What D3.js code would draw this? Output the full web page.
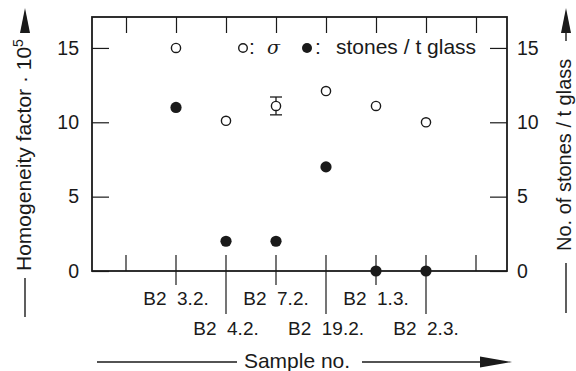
<!DOCTYPE html>
<html>
<head>
<meta charset="utf-8">
<script src="https://cdn.jsdelivr.net/npm/d3@7"></script>
<style>
  body { margin: 0; background: #fff; }
  text { font-family: Arial, "Liberation Sans", sans-serif; fill: #1a1a1a; }
</style>
</head>
<body>
<div id="chart"></div>
<script>
// Données
const samples = ["B2\u00a0\u00a03.2.", "B2\u00a0\u00a04.2.", "B2\u00a0\u00a07.2.", "B2\u00a0\u00a019.2.", "B2\u00a0\u00a01.3.", "B2\u00a0\u00a02.3."];
const sigma = [15.0, 10.1, 11.1, 12.1, 11.1, 10.0];
const sigmaErr = [0, 0, 0.6, 0, 0, 0];
const stones = [11.0, 2.0, 2.0, 7.0, 0, 0];
const yTicks = [0, 5, 10, 15];

const width = 576;
const height = 371;
const ink = "#1a1a1a";

const svg = d3.select("#chart")
  .append("svg")
  .attr("width", width)
  .attr("height", height);

// positions 1..6 pour les échantillons, 0..7 pour les graduations
const x = d3.scaleLinear().domain([-0.68, 7.62]).range([92, 507]);
const y = d3.scaleLinear().domain([0, 17.08]).range([271, 17]);
const xTicks = d3.range(0, 8);

// Cadre
svg.append("rect")
  .attr("x", x.range()[0])
  .attr("y", y.range()[1])
  .attr("width", x.range()[1] - x.range()[0])
  .attr("height", y.range()[0] - y.range()[1])
  .attr("fill", "none")
  .attr("stroke", ink)
  .attr("stroke-width", 1.8);

// Axes gauche et droit
const leftAxis = svg.append("g")
  .attr("transform", `translate(${x.range()[0]},0)`)
  .call(d3.axisLeft(y).tickValues(yTicks).tickSize(-17).tickPadding(13));
const rightAxis = svg.append("g")
  .attr("transform", `translate(${x.range()[1]},0)`)
  .call(d3.axisRight(y).tickValues(yTicks).tickSize(-17).tickPadding(10));

// Graduations du haut
const topAxis = svg.append("g")
  .attr("transform", `translate(0,${y.range()[1]})`)
  .call(d3.axisTop(x).tickValues(xTicks).tickSize(-16).tickFormat(""));

[leftAxis, rightAxis, topAxis].forEach(g => {
  g.select(".domain").remove();
  g.selectAll(".tick line").attr("stroke", ink).attr("stroke-width", 1.2);
  g.selectAll(".tick text").attr("font-size", 19.5).attr("fill", ink)
    .style("font-family", "Arial, 'Liberation Sans', sans-serif");
});

// Graduations du bas, prolongées sous l'axe pour les échantillons
const ext = i => (i === 0 || i === 7) ? 0 : (i % 2 === 1 ? 14 : 43);
svg.append("g")
  .selectAll("line")
  .data(xTicks)
  .enter().append("line")
  .attr("x1", d => x(d))
  .attr("x2", d => x(d))
  .attr("y1", y(0) - 16)
  .attr("y2", d => y(0) + ext(d))
  .attr("stroke", ink)
  .attr("stroke-width", 1.2);

svg.append("g")
  .selectAll("text")
  .data(samples)
  .enter().append("text")
  .attr("x", (d, i) => x(i + 1))
  .attr("y", (d, i) => i % 2 === 0 ? 305 : 335)
  .attr("text-anchor", "middle")
  .attr("font-size", 19)
  .text(d => d);

// Barre d'erreur
const errData = sigma.map((v, i) => ({ i: i + 1, v, e: sigmaErr[i] })).filter(d => d.e > 0);
const err = svg.append("g").attr("stroke", ink).attr("stroke-width", 1.3);
errData.forEach(d => {
  err.append("line").attr("x1", x(d.i)).attr("x2", x(d.i))
    .attr("y1", y(d.v - d.e)).attr("y2", y(d.v + d.e));
  [d.v - d.e, d.v + d.e].forEach(v => {
    err.append("line").attr("x1", x(d.i) - 6).attr("x2", x(d.i) + 6)
      .attr("y1", y(v)).attr("y2", y(v));
  });
});

// Points
svg.append("g")
  .selectAll("circle")
  .data(sigma)
  .enter().append("circle")
  .attr("cx", (d, i) => x(i + 1))
  .attr("cy", d => y(d))
  .attr("r", 4.6)
  .attr("fill", "#fff")
  .attr("stroke", ink)
  .attr("stroke-width", 1.4);

svg.append("g")
  .selectAll("circle")
  .data(stones)
  .enter().append("circle")
  .attr("cx", (d, i) => x(i + 1))
  .attr("cy", d => y(d))
  .attr("r", 5.6)
  .attr("fill", ink);

// Légende
const lg = svg.append("g").attr("font-size", 21);
lg.append("circle").attr("cx", 243).attr("cy", 48).attr("r", 4.3)
  .attr("fill", "#fff").attr("stroke", ink).attr("stroke-width", 1.4);
lg.append("text").attr("x", 249).attr("y", 54).text(":");
lg.append("text").attr("x", 267).attr("y", 54).attr("font-style", "italic")
  .style("font-family", "'DejaVu Serif', serif").attr("font-size", 19).text("σ");
lg.append("circle").attr("cx", 307).attr("cy", 48).attr("r", 5).attr("fill", ink);
lg.append("text").attr("x", 315).attr("y", 54).text(":");
lg.append("text").attr("x", 336).attr("y", 54).text("stones / t glass");

// Flèches et titres des axes
function arrowUp(cx, tip) {
  svg.append("path")
    .attr("d", `M${cx},${tip} L${cx - 5},${tip + 25} L${cx + 5},${tip + 25} Z`)
    .attr("fill", ink);
}

const lt = svg.append("text")
  .attr("transform", "translate(31,271) rotate(-90)")
  .attr("font-size", 21);
lt.append("tspan").text("Homogeneity factor · 10");
lt.append("tspan").attr("dy", -8).attr("font-size", 14).text("5");
svg.append("line").attr("x1", 25).attr("x2", 25).attr("y1", 278).attr("y2", 317)
  .attr("stroke", ink).attr("stroke-width", 1.4);
arrowUp(25, 8);

svg.append("text")
  .attr("transform", "translate(571,251) rotate(-90)")
  .attr("font-size", 20)
  .text("No. of stones / t glass");
svg.append("line").attr("x1", 566).attr("x2", 566).attr("y1", 263).attr("y2", 313)
  .attr("stroke", ink).attr("stroke-width", 1.4);
svg.append("line").attr("x1", 566).attr("x2", 566).attr("y1", 30).attr("y2", 41)
  .attr("stroke", ink).attr("stroke-width", 1.4);
arrowUp(566, 8);

svg.append("text")
  .attr("x", 297).attr("y", 368)
  .attr("text-anchor", "middle")
  .attr("font-size", 21)
  .text("Sample no.");
svg.append("line").attr("x1", 97).attr("x2", 237).attr("y1", 362).attr("y2", 362)
  .attr("stroke", ink).attr("stroke-width", 1.4);
svg.append("line").attr("x1", 362).attr("x2", 485).attr("y1", 362).attr("y2", 362)
  .attr("stroke", ink).attr("stroke-width", 1.4);
svg.append("path")
  .attr("d", "M512,362 L480,356.5 L480,367.5 Z")
  .attr("fill", ink);
</script>
</body>
</html>
